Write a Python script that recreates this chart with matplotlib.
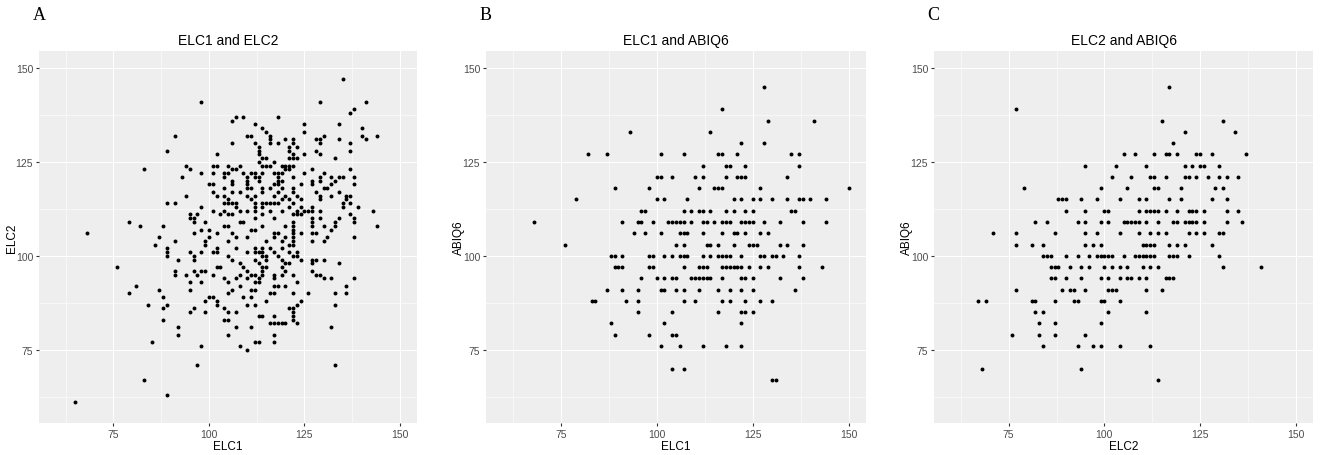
#!/usr/bin/env python3
"""Three ggplot-style scatter panels: ELC1 / ELC2 / ABIQ6."""

import matplotlib

matplotlib.use("Agg")
import matplotlib.pyplot as plt

plt.rcParams["font.family"] = "Liberation Sans"

# (x, y) points, one line per y value
PAIRS_A = [  # ELC1, ELC2
    (135, 147),
    (98, 141), (129, 141), (141, 141),
    (138, 139), (137, 138),
    (106, 136), (107, 137), (109, 137), (118, 137),
    (112, 135), (125, 135), (134, 135),
    (114, 134), (140, 134),
    (115, 133), (125, 133),
    (91, 132), (110, 132), (111, 132), (116, 132), (130, 132), (140, 132), (144, 132),
    (116, 131), (120, 131), (122, 131), (128, 131), (129, 131), (134, 131), (141, 131),
    (106, 130), (112, 130), (116, 130), (118, 130), (122, 130), (129, 130), (137, 130),
    (113, 129), (121, 129), (123, 129),
    (89, 128), (113, 128), (121, 128), (128, 128), (137, 128),
    (102, 127), (113, 127), (122, 127), (125, 127), (129, 127),
    (114, 126), (115, 126), (121, 126), (122, 126), (123, 126), (133, 126),
    (113, 125), (117, 125),
    (94, 124), (101, 124), (102, 124), (105, 124), (108, 124), (114, 124), (115, 124),
    (116, 124), (119, 124), (120, 124), (121, 124), (122, 124),
    (83, 123), (95, 123), (106, 123), (107, 123), (120, 123), (121, 123), (127, 123), (137, 123),
    (98, 122), (101, 122), (104, 122), (105, 122), (109, 122), (111, 122), (112, 122),
    (114, 122), (117, 122), (118, 122), (119, 122), (125, 122), (130, 122),
    (93, 121), (104, 121), (110, 121), (112, 121), (113, 121), (118, 121), (122, 121),
    (129, 121), (132, 121), (134, 121), (135, 121), (138, 121),
    (106, 120), (110, 120), (113, 120), (118, 120), (119, 120), (127, 120), (129, 120), (133, 120),
    (100, 119), (101, 119), (106, 119), (110, 119), (117, 119), (118, 119), (124, 119),
    (127, 119), (132, 119), (138, 119),
    (104, 118), (110, 118), (111, 118), (114, 118), (116, 118), (119, 118), (122, 118),
    (130, 118), (131, 118),
    (101, 117), (106, 117), (108, 117), (114, 117), (118, 117), (122, 117), (128, 117), (134, 117),
    (94, 116), (102, 116), (104, 116), (110, 116), (112, 116), (117, 116), (120, 116),
    (123, 116), (129, 116), (132, 116), (136, 116), (137, 116),
    (105, 115), (111, 115), (119, 115), (121, 115), (124, 115), (129, 115), (136, 115),
    (89, 114), (91, 114), (104, 114), (105, 114), (106, 114), (107, 114), (112, 114),
    (114, 114), (115, 114), (116, 114), (117, 114), (118, 114), (122, 114), (135, 114), (137, 114),
    (98, 113), (107, 113), (112, 113), (114, 113), (121, 113), (124, 113), (127, 113),
    (135, 113), (139, 113),
    (101, 112), (104, 112), (108, 112), (110, 112), (112, 112), (116, 112), (119, 112),
    (123, 112), (125, 112), (126, 112), (127, 112), (129, 112), (143, 112),
    (95, 111), (97, 111), (103, 111), (105, 111), (106, 111), (114, 111), (122, 111),
    (123, 111), (124, 111), (137, 111),
    (95, 110), (96, 110), (112, 110), (117, 110), (127, 110), (129, 110), (134, 110), (138, 110),
    (79, 109), (96, 109), (99, 109), (108, 109), (109, 109), (122, 109), (127, 109),
    (133, 109), (138, 109),
    (82, 108), (88, 108), (104, 108), (105, 108), (114, 108), (120, 108), (122, 108),
    (127, 108), (130, 108), (133, 108), (144, 108),
    (98, 107), (100, 107), (111, 107), (112, 107), (122, 107), (132, 107),
    (68, 106), (96, 106), (102, 106), (106, 106), (117, 106), (118, 106), (122, 106),
    (124, 106), (127, 106), (128, 106),
    (87, 105), (100, 105), (107, 105), (110, 105), (117, 105), (120, 105), (122, 105),
    (131, 105), (138, 105),
    (91, 104), (99, 104), (105, 104), (115, 104), (119, 104), (122, 104), (127, 104), (130, 104),
    (86, 103), (99, 103), (121, 103), (122, 103),
    (89, 102), (102, 102), (107, 102), (112, 102), (114, 102), (116, 102), (119, 102),
    (89, 101), (95, 101), (98, 101), (101, 101), (102, 101), (110, 101), (112, 101),
    (113, 101), (114, 101), (117, 101), (121, 101), (123, 101),
    (89, 100), (96, 100), (105, 100), (114, 100), (115, 100), (118, 100), (122, 100), (123, 100),
    (92, 99), (96, 99), (106, 99), (112, 99), (115, 99), (119, 99), (124, 99), (127, 99),
    (128, 99), (130, 99),
    (108, 98), (113, 98), (120, 98), (121, 98), (127, 98), (134, 98),
    (76, 97), (102, 97), (103, 97), (109, 97), (114, 97), (115, 97), (119, 97),
    (91, 96), (96, 96), (98, 96), (99, 96), (110, 96), (114, 96), (120, 96), (127, 96),
    (91, 95), (94, 95), (97, 95), (101, 95), (108, 95), (111, 95), (112, 95), (114, 95),
    (117, 95), (119, 95), (122, 95), (128, 95), (129, 95),
    (104, 94), (107, 94), (110, 94), (113, 94), (117, 94), (130, 94), (132, 94), (138, 94),
    (95, 93), (98, 93), (105, 93), (112, 93), (113, 93), (123, 93),
    (81, 92), (108, 92), (117, 92), (118, 92), (120, 92), (136, 92),
    (87, 91), (95, 91), (106, 91), (111, 91), (112, 91),
    (79, 90), (105, 90), (116, 90), (117, 90), (122, 90), (126, 90), (133, 90), (136, 90),
    (88, 89), (100, 89), (101, 89), (109, 89), (111, 89),
    (99, 88), (102, 88), (115, 88), (124, 88),
    (84, 87), (89, 87), (102, 87), (110, 87), (112, 87), (123, 87), (133, 87),
    (88, 86), (96, 86), (104, 86), (121, 86), (122, 86),
    (95, 85), (99, 85), (105, 85), (107, 85), (122, 85),
    (113, 84), (114, 84), (117, 84), (122, 84),
    (88, 83), (104, 83), (105, 83), (122, 83),
    (116, 82), (117, 82), (118, 82), (119, 82), (120, 82), (123, 82),
    (92, 81), (107, 81), (111, 81), (132, 81),
    (92, 79), (105, 79), (117, 79),
    (85, 77), (112, 77), (113, 77), (117, 77),
    (98, 76), (108, 76),
    (110, 75),
    (97, 71), (133, 71),
    (83, 67),
    (89, 63),
    (65, 61),
]

PAIRS_B = [  # ELC1, ABIQ6
    (128, 145),
    (117, 139),
    (129, 136), (141, 136),
    (93, 133), (114, 133),
    (122, 130), (128, 130),
    (82, 127), (87, 127), (101, 127), (107, 127), (116, 127), (117, 127), (121, 127),
    (135, 127), (137, 127),
    (112, 124), (118, 124), (119, 124), (123, 124), (137, 124),
    (100, 121), (101, 121), (104, 121), (110, 121), (112, 121), (118, 121), (121, 121),
    (122, 121), (123, 121), (134, 121),
    (89, 118), (98, 118), (111, 118), (115, 118), (116, 118), (117, 118), (127, 118), (150, 118),
    (79, 115), (100, 115), (102, 115), (108, 115), (120, 115), (122, 115), (125, 115),
    (127, 115), (130, 115), (134, 115), (137, 115), (138, 115), (140, 115), (144, 115),
    (96, 112), (97, 112), (107, 112), (109, 112), (111, 112), (112, 112), (114, 112),
    (118, 112), (120, 112), (123, 112), (125, 112), (135, 112), (136, 112),
    (68, 109), (91, 109), (95, 109), (96, 109), (99, 109), (103, 109), (104, 109),
    (105, 109), (106, 109), (107, 109), (109, 109), (112, 109), (113, 109), (115, 109),
    (117, 109), (118, 109), (119, 109), (122, 109), (123, 109), (124, 109), (125, 109),
    (128, 109), (132, 109), (138, 109), (144, 109),
    (94, 106), (97, 106), (101, 106), (106, 106), (107, 106), (108, 106), (112, 106),
    (117, 106), (120, 106), (121, 106), (123, 106), (127, 106), (129, 106),
    (76, 103), (105, 103), (107, 103), (113, 103), (114, 103), (116, 103), (120, 103),
    (124, 103), (125, 103), (126, 103), (132, 103), (134, 103), (138, 103),
    (88, 100), (89, 100), (91, 100), (98, 100), (99, 100), (102, 100), (104, 100),
    (106, 100), (107, 100), (108, 100), (112, 100), (114, 100), (116, 100), (117, 100),
    (118, 100), (119, 100), (122, 100), (127, 100), (128, 100), (130, 100), (131, 100),
    (133, 100), (137, 100),
    (89, 97), (90, 97), (91, 97), (98, 97), (99, 97), (107, 97), (111, 97), (112, 97),
    (113, 97), (117, 97), (118, 97), (119, 97), (120, 97), (121, 97), (122, 97),
    (124, 97), (127, 97), (129, 97), (137, 97), (143, 97),
    (96, 94), (100, 94), (102, 94), (104, 94), (105, 94), (109, 94), (110, 94),
    (111, 94), (112, 94), (113, 94), (114, 94), (117, 94), (122, 94), (123, 94),
    (125, 94), (132, 94), (138, 94),
    (87, 91), (91, 91), (95, 91), (101, 91), (102, 91), (105, 91), (107, 91), (111, 91),
    (116, 91), (119, 91), (122, 91), (125, 91), (136, 91),
    (83, 88), (84, 88), (92, 88), (95, 88), (107, 88), (110, 88), (117, 88), (119, 88),
    (123, 88), (127, 88), (130, 88),
    (95, 85), (104, 85), (116, 85), (122, 85), (123, 85), (125, 85),
    (88, 82), (102, 82), (122, 82),
    (89, 79), (98, 79), (104, 79), (105, 79),
    (101, 76), (106, 76), (112, 76), (118, 76), (122, 76),
    (104, 70), (107, 70),
    (130, 67), (131, 67),
]

PAIRS_C = [  # ELC2, ABIQ6
    (117, 145),
    (77, 139),
    (115, 136), (131, 136),
    (121, 133), (134, 133),
    (118, 130),
    (105, 127), (108, 127), (113, 127), (116, 127), (117, 127), (119, 127), (124, 127),
    (125, 127), (128, 127), (137, 127),
    (95, 124), (103, 124), (111, 124), (121, 124), (123, 124), (125, 124), (126, 124), (130, 124),
    (102, 121), (107, 121), (112, 121), (113, 121), (116, 121), (121, 121), (122, 121),
    (124, 121), (127, 121), (130, 121), (132, 121), (135, 121),
    (79, 118), (99, 118), (106, 118), (113, 118), (114, 118), (120, 118), (129, 118), (131, 118),
    (88, 115), (89, 115), (90, 115), (94, 115), (98, 115), (104, 115), (109, 115),
    (111, 115), (117, 115), (120, 115), (128, 115), (132, 115),
    (90, 112), (95, 112), (100, 112), (101, 112), (109, 112), (111, 112), (112, 112),
    (113, 112), (114, 112), (116, 112), (119, 112), (122, 112), (123, 112), (124, 112),
    (126, 112), (132, 112), (135, 112),
    (82, 109), (85, 109), (93, 109), (95, 109), (99, 109), (101, 109), (105, 109),
    (106, 109), (107, 109), (108, 109), (109, 109), (111, 109), (114, 109), (118, 109),
    (119, 109), (121, 109), (122, 109), (123, 109), (124, 109), (126, 109), (132, 109), (136, 109),
    (71, 106), (77, 106), (87, 106), (95, 106), (98, 106), (104, 106), (109, 106),
    (112, 106), (114, 106), (116, 106), (122, 106), (124, 106), (126, 106), (130, 106), (131, 106),
    (77, 103), (81, 103), (84, 103), (95, 103), (97, 103), (99, 103), (110, 103),
    (111, 103), (112, 103), (113, 103), (117, 103), (119, 103), (121, 103), (128, 103),
    (84, 100), (85, 100), (86, 100), (90, 100), (93, 100), (96, 100), (98, 100), (99, 100),
    (100, 100), (101, 100), (102, 100), (105, 100), (108, 100), (109, 100), (110, 100),
    (111, 100), (112, 100), (113, 100), (117, 100), (118, 100), (119, 100), (122, 100), (130, 100),
    (86, 97), (87, 97), (88, 97), (91, 97), (94, 97), (96, 97), (100, 97), (102, 97),
    (104, 97), (106, 97), (110, 97), (112, 97), (114, 97), (131, 97), (141, 97),
    (86, 94), (87, 94), (90, 94), (94, 94), (99, 94), (101, 94), (104, 94), (106, 94),
    (107, 94), (109, 94), (111, 94), (116, 94), (117, 94), (118, 94),
    (77, 91), (89, 91), (91, 91), (92, 91), (95, 91), (101, 91), (102, 91), (103, 91),
    (111, 91), (115, 91),
    (67, 88), (69, 88), (81, 88), (82, 88), (87, 88), (92, 88), (93, 88), (99, 88),
    (100, 88), (104, 88),
    (82, 85), (84, 85), (101, 85), (111, 85),
    (83, 82), (87, 82), (99, 82),
    (76, 79), (83, 79), (87, 79), (95, 79),
    (84, 76), (93, 76), (97, 76), (99, 76), (104, 76), (112, 76),
    (68, 70), (94, 70),
    (114, 67),
]

PANELS = [
    ("A", "ELC1 and ELC2", "ELC1", "ELC2", PAIRS_A),
    ("B", "ELC1 and ABIQ6", "ELC1", "ABIQ6", PAIRS_B),
    ("C", "ELC2 and ABIQ6", "ELC2", "ABIQ6", PAIRS_C),
]

# axes boxes in figure fractions (left, bottom, width, height)
BOXES = [
    (0.0295, 0.070, 0.286, 0.816),
    (0.3676, 0.070, 0.2874, 0.816),
    (0.7065, 0.070, 0.2867, 0.816),
]

fig = plt.figure(figsize=(13.22, 4.56), dpi=100)

for (tag, title, xlabel, ylabel, pairs), box in zip(PANELS, BOXES):
    ax = fig.add_axes(box)
    xs = [p[0] for p in pairs]
    ys = [p[1] for p in pairs]
    ax.set_facecolor("#EEEEEE")
    ax.scatter(xs, ys, s=8, color="black", linewidths=0, zorder=3)

    ax.set_xlim(55.5, 154.5)
    ax.set_ylim(55.5, 154.5)
    ax.set_xticks([75, 100, 125, 150])
    ax.set_yticks([75, 100, 125, 150])
    ax.set_xticks([62.5, 87.5, 112.5, 137.5], minor=True)
    ax.set_yticks([62.5, 87.5, 112.5, 137.5], minor=True)
    ax.grid(True, which="major", color="white", lw=0.8)
    ax.grid(True, which="minor", color="white", lw=0.4)
    ax.set_axisbelow(True)
    for side in ax.spines.values():
        side.set_visible(False)
    ax.tick_params(which="major", length=2.2, width=0.8, color="#333333",
                   labelsize=7.5, labelcolor="#4D4D4D", pad=2)
    ax.tick_params(which="minor", length=0)

    ax.set_title(title, fontsize=10, pad=5)
    ax.set_xlabel(xlabel, fontsize=8.5, labelpad=1)
    ax.set_ylabel(ylabel, fontsize=8.5)
    ax.yaxis.set_label_coords(-0.056, 0.5)

    fig.text(box[0] - 0.005, 0.965, tag, family="Liberation Serif",
             fontsize=13, va="center", ha="left")

fig.savefig("out.png", dpi=100)
